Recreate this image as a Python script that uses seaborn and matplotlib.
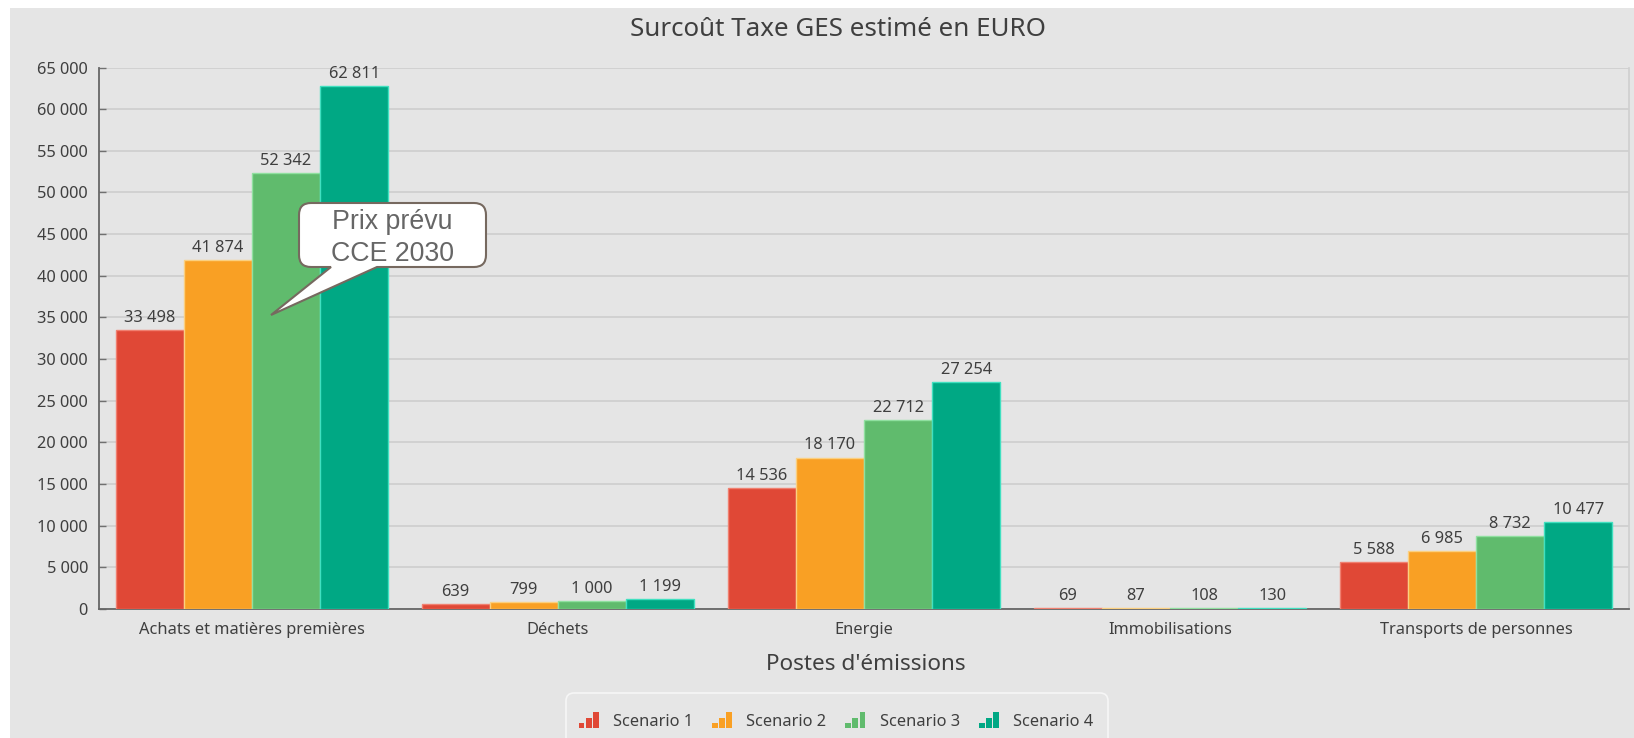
import matplotlib
matplotlib.use("Agg")
import matplotlib.pyplot as plt
import seaborn as sns
import pandas as pd
from matplotlib.patches import PathPatch, Rectangle, FancyBboxPatch
from matplotlib.path import Path
from matplotlib.legend_handler import HandlerBase
from matplotlib.transforms import Affine2D

categories = ["Achats et matières premières", "Déchets", "Energie", "Immobilisations", "Transports de personnes"]
scenario_1 = [33498, 639, 14536, 69, 5588]
scenario_2 = [41874, 799, 18170, 87, 6985]
scenario_3 = [52342, 1000, 22712, 108, 8732]
scenario_4 = [62811, 1199, 27254, 130, 10477]
scenarios = ["Scenario 1", "Scenario 2", "Scenario 3", "Scenario 4"]
colors = ["#E04836", "#F9A024", "#60BB6D", "#00A884"]
edges = ["#F08070", "#FBD080", "#90E0A0", "#40E0C0"]

W, H = 1634, 738
sns.set_theme(style="white")
plt.rcParams["font.family"] = ["Noto Sans", "DejaVu Sans"]
TXT = "#3f3f3f"

fig = plt.figure(figsize=(W / 100, H / 100), dpi=100, facecolor="white")
fig.patches.append(Rectangle((10 / W, 0), (W - 10) / W, (H - 8) / H, transform=fig.transFigure,
                             facecolor="#E5E5E5", edgecolor="none", zorder=-5))
ax = fig.add_axes([99 / W, 1 - 609 / H, (1629 - 99) / W, (609 - 67.5) / H])
ax.patch.set_alpha(0)

df = pd.DataFrame({"cat": categories * 4,
                   "scenario": [s for s in scenarios for _ in categories],
                   "val": scenario_1 + scenario_2 + scenario_3 + scenario_4})
sns.barplot(data=df, x="cat", y="val", hue="scenario", palette=colors, width=0.892, gap=0,
            dodge=True, legend=False, ax=ax, zorder=3, saturation=1, errorbar=None)

for cont, ec in zip(ax.containers, edges):
    for b in cont:
        b.set_edgecolor(ec)
        b.set_linewidth(1.0)
    ax.bar_label(cont, labels=[f"{v:,.0f}".replace(",", " ") for v in cont.datavalues],
                 padding=3, fontsize=11.8, color=TXT, zorder=5)

ax.set_xlim(-0.5, 4.5)
ax.set_ylim(0, 65000)
ax.set_yticks(range(0, 65001, 5000))
ax.set_yticklabels([f"{v:,}".replace(",", " ") for v in range(0, 65001, 5000)], fontsize=11.8, color=TXT)
ax.tick_params(axis="y", direction="in", length=5, width=1, color="#707070", pad=8, left=True)
ax.tick_params(axis="x", length=0, pad=9, labelsize=11.8, labelcolor=TXT)
ax.yaxis.grid(True, color="#CDCDCD", lw=1.2, zorder=0)
ax.set_axisbelow(True)
ax.spines["top"].set_visible(False)
ax.spines["right"].set_color("#CFCFCF")
ax.spines["right"].set_linewidth(1.2)
for s in ["left", "bottom"]:
    ax.spines[s].set_color("#666666")
    ax.spines[s].set_linewidth(1.3)
ax.set_ylabel("")
ax.set_xlabel("")

fig.text(838 / W, 1 - 29 / H, "Surcoût Taxe GES estimé en EURO", ha="center", va="center", fontsize=18.7, color=TXT)
fig.text(866 / W, 1 - 664 / H, "Postes d'émissions", ha="center", va="center", fontsize=16.2, color=TXT)

pix = Affine2D().scale(1, -1).translate(0, H)
to_fig = pix + Affine2D().scale(1 / W, 1 / H) + fig.transFigure

# Legend box, running off the bottom edge as in the reference
fig.add_artist(FancyBboxPatch((566, 693), 542, 70, boxstyle="round,pad=0,rounding_size=8",
                              facecolor="#E6E6E6", edgecolor="#F6F6F6", lw=1.2, transform=to_fig, zorder=1))


class BarsIcon(HandlerBase):
    def create_artists(self, legend, orig, xd, yd, width, height, fontsize, trans):
        c = orig.get_facecolor()
        out = []
        for fx, fh in [(0.0, 0.28), (0.36, 0.6), (0.72, 1.0)]:
            out.append(Rectangle((xd + fx * width, -yd + 1), width * 0.3, height * 0.9 * fh,
                                 facecolor=c, edgecolor="none", transform=trans))
        return out


handles = [Rectangle((0, 0), 1, 1, facecolor=c) for c in colors]
leg = fig.legend(handles, scenarios, handler_map={Rectangle: BarsIcon()}, ncol=4,
                 loc="lower center", bbox_to_anchor=(836 / W, -19 / H), frameon=False, fontsize=11.8,
                 handlelength=1.2, handleheight=1.25, handletextpad=0.9, columnspacing=1.15,
                 labelcolor=TXT, borderpad=1.15)
leg.set_zorder(2)

# Speech bubble in pixel coordinates of the figure
x0, x1, y0, y1, r = 299, 486, 203, 267, 12
tip = (271, 315)
bx0, bx1 = 331, 377
M, L, C = Path.MOVETO, Path.LINETO, Path.CURVE3
verts = [(x0 + r, y0), (x1 - r, y0), (x1, y0), (x1, y0 + r), (x1, y1 - r), (x1, y1), (x1 - r, y1),
         (bx1, y1), tip, (bx0, y1), (x0 + r, y1), (x0, y1), (x0, y1 - r), (x0, y0 + r), (x0, y0), (x0 + r, y0)]
codes = [M, L, C, C, L, C, C, L, L, L, L, C, C, L, C, C]
fig.add_artist(PathPatch(Path(verts, codes), facecolor="white", edgecolor="#76695F", lw=1.5,
                         transform=to_fig, zorder=10))
fig.text(392.5 / W, 1 - 238 / H, "Prix prévu\nCCE 2030", ha="center", va="center", fontsize=19.3,
         family="Liberation Sans", color="#666666", linespacing=1.3, zorder=11)

fig.savefig("out.png", dpi=100, facecolor="white")
